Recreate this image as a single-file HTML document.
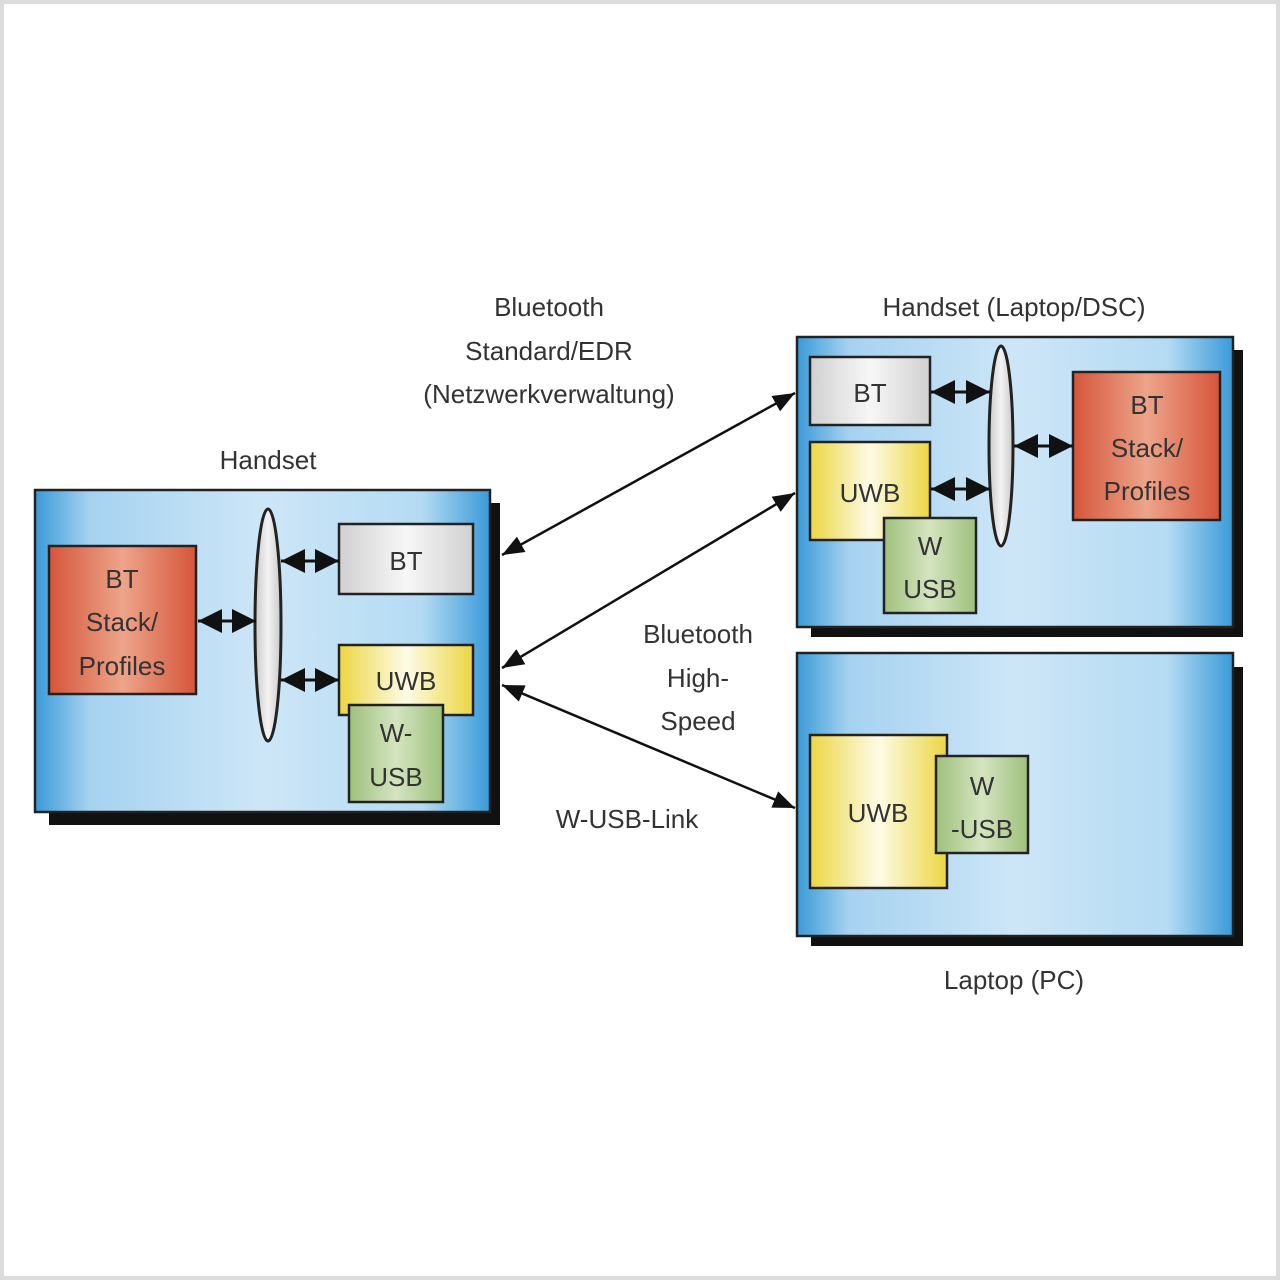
<!DOCTYPE html>
<html><head><meta charset="utf-8"><style>
html,body{margin:0;padding:0;background:#fff;}
svg{display:block;}
text{font-family:"Liberation Sans",sans-serif;fill:#333;font-size:26px;text-anchor:middle;}
</style></head><body>
<svg width="1280" height="1280" viewBox="0 0 1280 1280" xmlns="http://www.w3.org/2000/svg">
<defs>
<linearGradient id="blue" x1="0" x2="1" y1="0" y2="0">
<stop offset="0" stop-color="#3a9ad8"/><stop offset="0.12" stop-color="#a6d2f0"/><stop offset="0.5" stop-color="#cde6f7"/><stop offset="0.85" stop-color="#b4dbf3"/><stop offset="1" stop-color="#3a9ad8"/>
</linearGradient>
<linearGradient id="red" x1="0" x2="1"><stop offset="0" stop-color="#d5553a"/><stop offset="0.5" stop-color="#eda48a"/><stop offset="1" stop-color="#d5553a"/></linearGradient>
<linearGradient id="gray" x1="0" x2="1"><stop offset="0" stop-color="#d0d0d0"/><stop offset="0.5" stop-color="#f7f7f7"/><stop offset="1" stop-color="#d0d0d0"/></linearGradient>
<linearGradient id="yel" x1="0" x2="1"><stop offset="0" stop-color="#ecd642"/><stop offset="0.5" stop-color="#fdfbe6"/><stop offset="1" stop-color="#ecd642"/></linearGradient>
<linearGradient id="grn" x1="0" x2="1"><stop offset="0" stop-color="#9fc07c"/><stop offset="0.5" stop-color="#d4e4c0"/><stop offset="1" stop-color="#9fc07c"/></linearGradient>
<linearGradient id="ell" x1="0" x2="1"><stop offset="0" stop-color="#c8c8c8"/><stop offset="0.5" stop-color="#f4f4f4"/><stop offset="1" stop-color="#c8c8c8"/></linearGradient>
<marker id="big" viewBox="0 0 10 10" refX="10" refY="5" markerWidth="24" markerHeight="24" orient="auto-start-reverse" markerUnits="userSpaceOnUse"><path d="M0,0 L10,5 L0,10 z" fill="#111"/></marker>
<marker id="med" viewBox="0 0 10 10" refX="10" refY="5" markerWidth="22" markerHeight="22" orient="auto-start-reverse" markerUnits="userSpaceOnUse"><path d="M0,1 L10,5 L0,9 z" fill="#111"/></marker>
</defs>
<rect x="2" y="2" width="1276" height="1276" fill="#fff" stroke="#dcdcdc" stroke-width="4"/>

<g stroke="#222" stroke-width="2.5">
<!-- left box -->
<rect x="49" y="503" width="451" height="322" fill="#111" stroke="none"/>
<rect x="35" y="490" width="455" height="322" fill="url(#blue)"/>
<rect x="49" y="546" width="147" height="148" fill="url(#red)"/>
<ellipse cx="268" cy="625" rx="13" ry="116" fill="url(#ell)" stroke-width="3"/>
<rect x="339" y="524" width="134" height="70" fill="url(#gray)"/>
<rect x="339" y="645" width="134" height="70" fill="url(#yel)"/>
<rect x="349" y="705" width="94" height="97" fill="url(#grn)"/>

<!-- right top box -->
<rect x="811" y="350" width="432" height="287" fill="#111" stroke="none"/>
<rect x="797" y="337" width="436" height="290" fill="url(#blue)"/>
<rect x="810" y="357" width="120" height="68" fill="url(#gray)"/>
<rect x="810" y="442" width="120" height="98" fill="url(#yel)"/>
<rect x="884" y="518" width="92" height="95" fill="url(#grn)"/>
<ellipse cx="1001" cy="446" rx="12" ry="100" fill="url(#ell)" stroke-width="3"/>
<rect x="1073" y="372" width="147" height="148" fill="url(#red)"/>

<!-- laptop box -->
<rect x="811" y="667" width="432" height="279" fill="#111" stroke="none"/>
<rect x="797" y="653" width="436" height="283" fill="url(#blue)"/>
<rect x="810" y="735" width="137" height="153" fill="url(#yel)"/>
<rect x="936" y="756" width="92" height="97" fill="url(#grn)"/>
</g>

<g stroke="#111" stroke-width="3">
<line x1="198" y1="621" x2="256" y2="621" marker-start="url(#big)" marker-end="url(#big)"/>
<line x1="281" y1="561" x2="339" y2="561" marker-start="url(#big)" marker-end="url(#big)"/>
<line x1="281" y1="680" x2="339" y2="680" marker-start="url(#big)" marker-end="url(#big)"/>
<line x1="931" y1="392" x2="990" y2="392" marker-start="url(#big)" marker-end="url(#big)"/>
<line x1="931" y1="489" x2="990" y2="489" marker-start="url(#big)" marker-end="url(#big)"/>
<line x1="1014" y1="446" x2="1073" y2="446" marker-start="url(#big)" marker-end="url(#big)"/>
</g>

<text x="122" y="588">BT</text><text x="122" y="631">Stack/</text><text x="122" y="675">Profiles</text>
<text x="406" y="570">BT</text>
<text x="406" y="690">UWB</text>
<text x="396" y="742">W-</text><text x="396" y="786">USB</text>
<text x="870" y="402">BT</text>
<text x="870" y="502">UWB</text>
<text x="930" y="555">W</text><text x="930" y="598">USB</text>
<text x="1147" y="414">BT</text><text x="1147" y="457">Stack/</text><text x="1147" y="500">Profiles</text>
<text x="878" y="822">UWB</text>
<text x="982" y="795">W</text><text x="982" y="838">-USB</text>

<!-- connectors -->
<g stroke="#111" stroke-width="2.5">
<line x1="502" y1="555" x2="795" y2="393" marker-start="url(#med)" marker-end="url(#med)"/>
<line x1="502" y1="668" x2="795" y2="493" marker-start="url(#med)" marker-end="url(#med)"/>
<line x1="502" y1="685" x2="795" y2="808" marker-start="url(#med)" marker-end="url(#med)"/>
</g>

<!-- labels -->
<text x="549" y="316">Bluetooth</text>
<text x="549" y="360">Standard/EDR</text>
<text x="549" y="403">(Netzwerkverwaltung)</text>
<text x="268" y="469">Handset</text>
<text x="1014" y="316">Handset (Laptop/DSC)</text>
<text x="698" y="643">Bluetooth</text>
<text x="698" y="687">High-</text>
<text x="698" y="730">Speed</text>
<text x="627" y="828">W-USB-Link</text>
<text x="1014" y="989">Laptop (PC)</text>
</svg>
</body></html>
